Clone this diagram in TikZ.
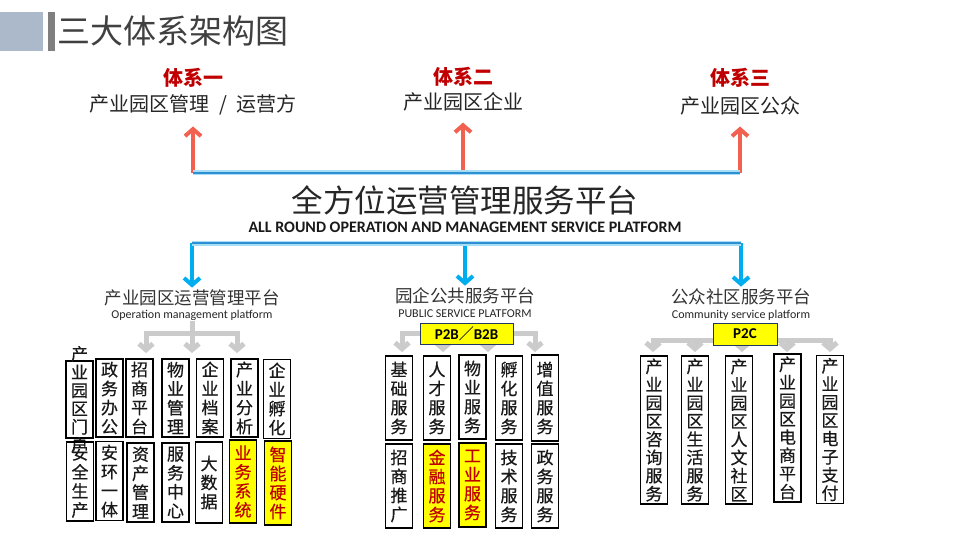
\documentclass[tikz,border=0pt]{standalone}
\usepackage{fontspec}
\setmainfont{Carlito}
\newfontfamily\cjk{Noto Sans CJK SC}
\newfontfamily\cjkbox[FakeBold=0.5]{Noto Sans CJK SC}
\usepackage{tikz}
\usetikzlibrary{arrows.meta,positioning}
\definecolor{titlegray}{HTML}{ACB9CA}
\definecolor{titlebar}{HTML}{7F7F7F}
\definecolor{inkgray}{HTML}{404040}
\definecolor{sysred}{HTML}{C00000}
\definecolor{uparrow}{HTML}{F26150}
\definecolor{downarrow}{HTML}{00AEEF}
\definecolor{barglow}{HTML}{A8DDF6}
\definecolor{barcore}{HTML}{2F8FD5}
\definecolor{branch}{HTML}{CBCBCB}
\definecolor{hilite}{HTML}{FFFF00}
\definecolor{navy}{HTML}{1F3864}
\tikzset{
  syshead/.style={font=\cjk\bfseries\fontsize{20}{22}\selectfont, text=sysred, inner sep=1pt},
  sysname/.style={font=\cjk\fontsize{20}{22}\selectfont, text=black!85, inner sep=1pt},
  coretitle/.style={font=\cjk\fontsize{31.5}{33}\selectfont, text=black!85, inner sep=1pt},
  coresub/.style={font=\bfseries\fontsize{16}{17}\selectfont, text=black!90, inner sep=1pt},
  platcn/.style={font=\cjk\fontsize{17.5}{19}\selectfont, text=black!80, inner sep=1pt},
  platen/.style={font=\fontsize{12}{13}\selectfont, text=black!85, inner sep=1pt},
  colbox/.style={draw, line width=1.2pt, minimum width=27pt, inner sep=0pt, align=center,
    font=\cjkbox\fontsize{17}{19}\selectfont, text=black!90},
  hotbox/.style={colbox, fill=hilite, text=sysred},
  coltext/.style={align=center, inner sep=0pt, font=\cjkbox\fontsize{17}{18.2}\selectfont, text=black!90},
  tagbox/.style={draw=navy, line width=1pt, fill=hilite, minimum height=21pt, inner sep=0pt,
    font=\bfseries\fontsize{15}{15}\selectfont},
  bluebar/.style={line width=5pt, draw=barglow, postaction={draw=barcore, line width=1.6pt}},
  uparr/.style={-{Straight Barb[length=7pt,width=16pt]}, line width=4pt, draw=uparrow, shorten >=10pt},
  downarr/.style={-{Straight Barb[length=7pt,width=16pt]}, line width=4pt, draw=downarrow, shorten >=1pt},
  grayline/.style={line width=5pt, draw=branch},
  grayarr/.style={-{Straight Barb[length=6pt,width=14pt]}, line width=5pt, draw=branch}
}

\begin{document}
\begin{tikzpicture}[x=1pt,y=-1pt]
  \fill[white] (0,0) rectangle (960,540);
  \useasboundingbox (0,0) rectangle (960,540);

  \fill[titlegray] (0,12) rectangle (43,51);
  \fill[titlebar] (48,12) rectangle (55,51);
  \node[anchor=west, font=\cjk\fontsize{33}{33}\selectfont, text=inkgray, inner sep=0pt] (title) at (57,31) {三大体系架构图};

  % three systems
  \node[syshead] (sys1) at (193,78) {体系一};
  \node[sysname] (name1) at (193,105) {产业园区管理\enspace/\enspace{}运营方};
  \node[syshead] (sys2) at (463,77) {体系二};
  \node[sysname] (name2) at (463,102) {产业园区企业};
  \node[syshead] (sys3) at (740,78) {体系三};
  \node[sysname] (name3) at (740,106) {产业园区公众};

  \node[coretitle] (core) at (465,200) {全方位运营管理服务平台};
  \node[coresub] (coreen) at (465,227) {ALL ROUND OPERATION AND MANAGEMENT SERVICE PLATFORM};

  \foreach \i in {1,2,3} {
    \coordinate (up\i) at (name\i.south |- 0,173);
    \draw[uparr] (up\i) -- (name\i.south);
  }
  \draw[bluebar] (up1) -- (up3);

  % platforms
  \node[platcn] (plat1) at (192,298) {产业园区运营管理平台};
  \node[platen] (plat1en) at (192,315) {Operation management platform};
  \node[platcn] (plat2) at (465,296) {园企公共服务平台};
  \node[platen] (plat2en) at (465,314) {PUBLIC SERVICE PLATFORM};
  \node[platcn] (plat3) at (741,297) {公众社区服务平台};
  \node[platen] (plat3en) at (741,315) {Community service platform};

  \foreach \i in {1,2,3} {
    \coordinate (dn\i) at (plat\i.north |- 0,243);
    \draw[downarr] (dn\i) -- (plat\i.north);
  }
  \draw[bluebar] (dn1) -- (dn3);

  % gray branches
  \coordinate (g1) at (plat1en.south |- 0,333);
  \draw[grayline] (plat1en.south) -- (g1);
  \foreach \x [count=\i] in {146,192,237} {
    \coordinate (ta\i) at (\x,353);
    \draw[grayarr] (g1) -| (ta\i);
  }
  \coordinate (g2) at (466.5,333);
  \foreach \x [count=\i] in {402,443,488,535} {
    \coordinate (tb\i) at (\x,352);
    \draw[grayarr] (g2) -| (tb\i);
  }
  \coordinate (g3) at (745,340);
  \foreach \x [count=\i] in {653,695,742,787,830} {
    \coordinate (tc\i) at (\x,352);
    \draw[grayarr] (g3) -| (tc\i);
  }
  \node[tagbox, minimum width=93pt] (p2b) at (466.5,333.5) {P2B{\cjk／}B2B};
  \node[tagbox, minimum width=64pt, minimum height=22pt] (p2c) at (745,334) {P2C};

  % operation management boxes
  \node[colbox, minimum height=77pt] (a1) at (79.5,399.5) {};
  \node[coltext] (a1t) at (a1) {产\\业\\园\\区\\门\\户};
  \node[colbox, minimum height=78pt] (a2) at (109.5,398) {政\\务\\办\\公};
  \node[colbox, minimum height=78pt] (a3) at (139.5,398) {招\\商\\平\\台};
  \node[colbox, minimum height=78pt] (a4) at (175.5,398) {物\\业\\管\\理};
  \node[colbox, minimum height=78pt] (a5) at (210,398) {企\\业\\档\\案};
  \node[colbox, minimum height=78pt] (a6) at (244.5,398) {产\\业\\分\\析};
  \node[colbox, minimum height=79pt] (a7) at (277,399) {企\\业\\孵\\化};
  \node[colbox, minimum height=79pt] (b1) at (80,481.5) {安\\全\\生\\产};
  \node[colbox, minimum height=79pt] (b2) at (109.5,481) {安\\环\\一\\体};
  \node[colbox, minimum height=79pt] (b3) at (140.5,482.5) {资\\产\\管\\理};
  \node[colbox, minimum height=79pt] (b4) at (175.5,482.5) {服\\务\\中\\心};
  \node[colbox, minimum height=81pt] (b5) at (209,482.5) {大\\数\\据};
  \node[hotbox, minimum height=83pt] (b6) at (243,481.5) {业\\务\\系\\统};
  \node[hotbox, minimum height=84pt] (b7) at (278,483) {智\\能\\硬\\件};

  % public service boxes
  \node[colbox, minimum height=84pt] (c1) at (399,398) {基\\础\\服\\务};
  \node[colbox, minimum height=84pt] (c2) at (437,398) {人\\才\\服\\务};
  \node[colbox, minimum height=84pt] (c3) at (472.5,397) {物\\业\\服\\务};
  \node[colbox, minimum height=84pt] (c4) at (509,398) {孵\\化\\服\\务};
  \node[colbox, minimum height=86pt] (c5) at (545,398) {增\\值\\服\\务};
  \node[colbox, minimum height=84pt] (d1) at (399,486) {招\\商\\推\\广};
  \node[hotbox, minimum height=84pt] (d2) at (437,486) {金\\融\\服\\务};
  \node[hotbox, minimum height=84pt] (d3) at (472.5,485) {工\\业\\服\\务};
  \node[colbox, minimum height=84pt] (d4) at (509,486) {技\\术\\服\\务};
  \node[colbox, minimum height=84pt] (d5) at (545,486) {政\\务\\服\\务};

  % community service boxes
  \node[colbox, minimum height=148pt] (e1) at (654,430) {};
  \node[coltext] (e1t) at (e1) {产\\业\\园\\区\\咨\\询\\服\\务};
  \node[colbox, minimum height=148pt] (e2) at (695,430) {};
  \node[coltext] (e2t) at (e2) {产\\业\\园\\区\\生\\活\\服\\务};
  \node[colbox, minimum height=148pt] (e3) at (739,430) {};
  \node[coltext] (e3t) at (e3) {产\\业\\园\\区\\人\\文\\社\\区};
  \node[colbox, minimum height=148pt] (e4) at (787.5,428) {};
  \node[coltext] (e4t) at (e4) {产\\业\\园\\区\\电\\商\\平\\台};
  \node[colbox, minimum height=148pt] (e5) at (830,429.5) {};
  \node[coltext] (e5t) at (e5) {产\\业\\园\\区\\电\\子\\支\\付};
\end{tikzpicture}
\end{document}
